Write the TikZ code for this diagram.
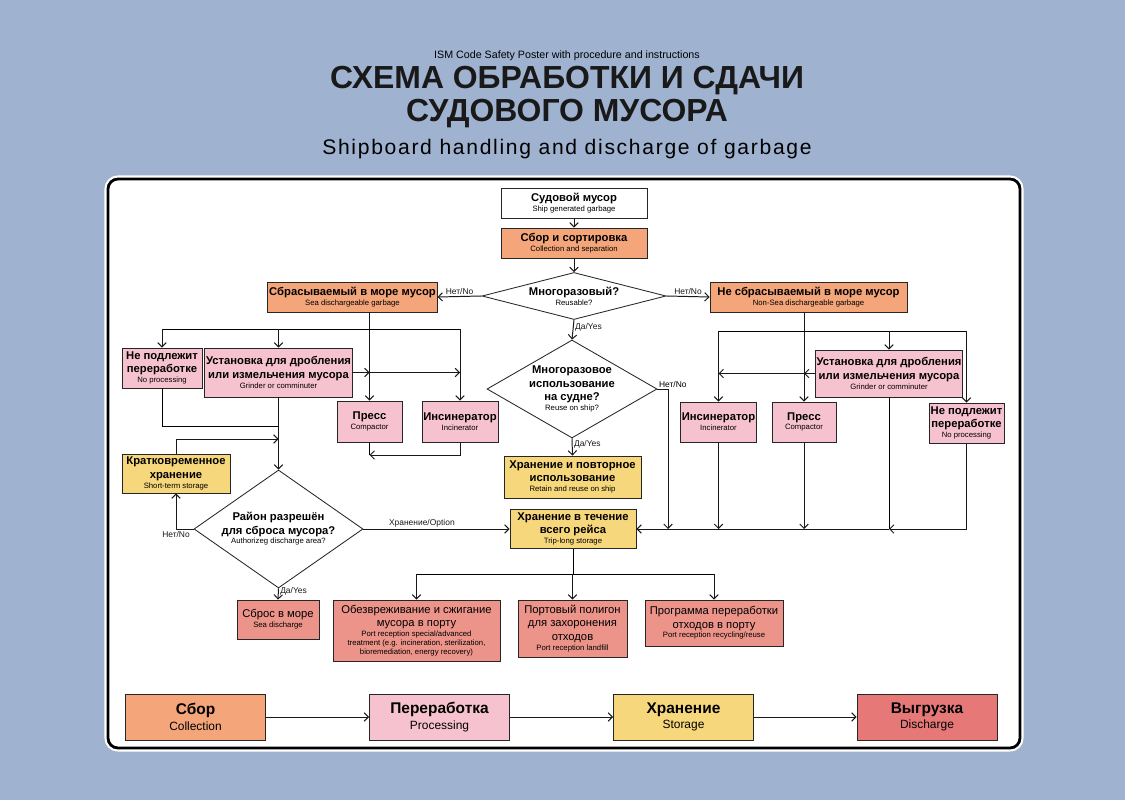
\documentclass[tikz,border=0pt]{standalone}
\usepackage{fontspec}
\setmainfont{Liberation Sans}
\usetikzlibrary{shapes.geometric,arrows.meta}
\newdimen\pxu \pxu=0.025cm
\definecolor{bgblue}{RGB}{159,178,208}
\definecolor{collorange}{RGB}{244,166,122}
\definecolor{procpink}{RGB}{247,194,208}
\definecolor{storeyellow}{RGB}{247,215,124}
\definecolor{dischred}{RGB}{236,148,138}
\definecolor{legendred}{RGB}{231,120,120}
\newcommand{\engl}[1]{{\fontsize{5.5}{6.5}\selectfont\mdseries #1}}
\newcommand{\englb}[1]{{\fontsize{8.5}{10}\selectfont\mdseries #1}}

\tikzset{
  box/.style={draw=black!85, line width=0.6pt, align=center, inner sep=1pt,
    font=\fontsize{8}{9.5}\selectfont\bfseries},
  wd/.style={minimum width=#1\pxu},
  ht/.style={minimum height=#1\pxu},
  collect/.style={box, fill=collorange},
  proc/.style={box, fill=procpink},
  store/.style={box, fill=storeyellow},
  disch/.style={box, fill=dischred, font=\fontsize{8}{9.5}\selectfont},
  decide/.style={diamond, draw=black!85, line width=0.6pt, fill=white, align=center,
    inner sep=0pt, font=\fontsize{8}{9.5}\selectfont\bfseries},
  lbl/.style={font=\fontsize{6}{7}\selectfont, inner sep=1pt},
  legendbox/.style={draw=black!85, line width=0.6pt, align=center, minimum width=140\pxu,
    minimum height=46\pxu, font=\fontsize{11}{13}\selectfont\bfseries},
  flow/.style={->, line width=0.7pt, black!90},
}

\begin{document}
\begin{tikzpicture}[x=0.025cm, y=-0.025cm, >={Straight Barb[length=3pt,width=6pt]}]
  %%%%% BACKGROUND %%%%%
  \fill[bgblue] (0,0) rectangle (1125,800);
  \useasboundingbox (0,0) rectangle (1125,800);
  \draw[white, line width=5pt, rounded corners=10\pxu] (108,179) rectangle (1020,748);
  \draw[black, fill=white, line width=2pt, rounded corners=10\pxu] (108,179) rectangle (1020,748);

  %%%%% TITLE %%%%%
  \node[font=\fontsize{7.6}{8}\selectfont] (ism) at (567,56) {ISM Code Safety Poster with procedure and instructions};
  \node[font=\fontsize{22.7}{23}\selectfont\bfseries, align=center, text=black!90] (ttl) at (567,97)
    {СХЕМА ОБРАБОТКИ И СДАЧИ\\СУДОВОГО МУСОРА};
  \node[font=\fontsize{15}{17}\selectfont\addfontfeature{LetterSpace=8}] (sub) at (567,149) {Shipboard handling and discharge of garbage};

  %%%%% TOP %%%%%
  \node[box, fill=white, wd=146, ht=30] (ship) at (574,203) {Судовой мусор\\[-2.5pt]\engl{Ship generated garbage}};
  \node[collect, wd=146, ht=30] (coll) at (574,243) {Сбор и сортировка\\[-2.5pt]\engl{Collection and separation}};
  \node[decide, minimum width=184\pxu, minimum height=47\pxu, shape aspect=3.9] (reuse) at (574,296)
    {Многоразовый?\\[-2.5pt]\engl{Reusable?}};
  \node[collect, wd=169, ht=30] (sea) at (352.5,297) {Сбрасываемый в море мусор\\[-2.5pt]\engl{Sea dischargeable garbage}};
  \node[collect, wd=197, ht=30] (nonsea) at (808.5,297) {Не сбрасываемый в море мусор\\[-2.5pt]\engl{Non-Sea dischargeable garbage}};
  \node[decide, minimum width=170\pxu, minimum height=98\pxu, shape aspect=1.73] (shipuse) at (572,389)
    {Многоразовое\\использование\\на судне?\\[-2.5pt]\engl{Reuse on ship?}};
  \node[store, wd=137, ht=42] (retain) at (572.5,477) {Хранение и повторное\\использование\\[-2.5pt]\engl{Retain and reuse on ship}};
  \node[store, wd=126, ht=39] (trip) at (573,529) {Хранение в течение\\всего рейса\\[-2.5pt]\engl{Trip-long storage}};

  %%%%% LEFT %%%%%
  \node[proc, wd=80, ht=40] (noprocL) at (162,368) {Не подлежит\\переработке\\[-2.5pt]\engl{No processing}};
  \node[proc, wd=147, ht=49] (grindL) at (278.5,372.5) {Установка для дробления\\или измельчения мусора\\[-2.5pt]\engl{Grinder or comminuter}};
  \node[proc, wd=65, ht=41] (compL) at (369.5,421.5) {Пресс\\[-2.5pt]\engl{Compactor}};
  \node[proc, wd=76, ht=41] (incL) at (460,421.5) {Инсинератор\\[-2.5pt]\engl{Incinerator}};
  \node[store, wd=108, ht=39] (shortL) at (176,473.5) {Кратковременное\\хранение\\[-2.5pt]\engl{Short-term storage}};
  \node[decide, minimum width=169\pxu, minimum height=118\pxu, shape aspect=1.43] (area) at (278.5,529)
    {Район разрешён\\для сброса мусора?\\[-2.5pt]\engl{Authorizeg discharge area?}};
  \node[disch, wd=82, ht=39] (seadis) at (278,619.5) {Сброс в море\\[-2.5pt]\engl{Sea discharge}};

  %%%%% RIGHT %%%%%
  \node[proc, wd=75, ht=40] (incR) at (718.5,422) {Инсинератор\\[-2.5pt]\engl{Incinerator}};
  \node[proc, wd=64, ht=40] (compR) at (804,422) {Пресс\\[-2.5pt]\engl{Compactor}};
  \node[proc, wd=146, ht=47] (grindR) at (889,373.5) {Установка для дробления\\или измельчения мусора\\[-2.5pt]\engl{Grinder or comminuter}};
  \node[proc, wd=75, ht=40] (noprocR) at (966.5,423) {Не подлежит\\переработке\\[-2.5pt]\engl{No processing}};

  %%%%% PORT %%%%%
  \node[disch, wd=167, ht=61] (portA) at (416.5,630.5) {Обезвреживание и сжигание\\мусора в порту\\[-2.5pt]\engl{Port reception special/advanced}\\[-3pt]\engl{treatment (e.g. incineration, sterilization,}\\[-3pt]\engl{bioremediation, energy recovery)}};
  \node[disch, wd=109, ht=57] (portB) at (572.5,628.5) {Портовый полигон\\для захоронения\\отходов\\[-2.5pt]\engl{Port reception landfill}};
  \node[disch, wd=138, ht=46] (portC) at (714,623) {Программа переработки\\отходов в порту\\[-2.5pt]\engl{Port reception recycling/reuse}};

  %%%%% LEGEND %%%%%
  \node[legendbox, fill=collorange] (lgA) at (195.5,717) {Сбор\\[-2pt]\englb{Collection}};
  \node[legendbox, fill=procpink] (lgB) at (439.5,717) {Переработка\\[-2pt]\englb{Processing}};
  \node[legendbox, fill=storeyellow] (lgC) at (683.5,717) {Хранение\\[-2pt]\englb{Storage}};
  \node[legendbox, fill=legendred] (lgD) at (927,717) {Выгрузка\\[-2pt]\englb{Discharge}};

  %%%%% CONNECTORS %%%%%
  \coordinate (brL) at (0,329);
  \coordinate (brR) at (0,331);
  \coordinate (jL) at (278.5,426);
  \coordinate (stL) at (0,439);
  \coordinate (rowL) at (0,455);
  \coordinate (tapA) at (668,529);
  \coordinate (jR) at (889,529);
  \coordinate (rowR) at (0,529);
  \coordinate (rowB) at (0,574);

  \draw[flow] (ship) -- (coll);
  \draw[flow] (coll) -- (reuse);
  \draw[flow] (reuse.west) -- node[lbl, above] (no1) {Нет/No} (sea.east);
  \draw[flow] (reuse.east) -- node[lbl, above] (no2) {Нет/No} (nonsea.west);
  \draw[flow] (reuse.south) -- node[lbl, right, pos=0.35] (yes1) {Да/Yes} (shipuse.north);
  \draw[flow] (shipuse.south) -- node[lbl, right, pos=0.35] (yes2) {Да/Yes} (retain.north);
  \draw[flow] (shipuse.east) -| (tapA);
  \node[lbl, anchor=south west] (no3) at (shipuse.east) {Нет/No};

  % left side
  \draw[flow] (sea.south -| compL) -- (compL.north);
  \draw (noprocL |- brL) -- (incL |- brL);
  \draw[flow] (noprocL |- brL) -- (noprocL.north);
  \draw[flow] (grindL |- brL) -- (grindL.north);
  \draw[flow] (incL |- brL) -- (incL.north);
  \draw[flow] (grindL.east) -- (grindL.east -| compL);
  \draw[flow] (grindL.east -| compL) -- (grindL.east -| incL);
  \draw[flow] (grindL) -- (area);
  \draw (noprocL.south) |- (jL);
  \draw[flow] (shortL.north) |- (grindL |- stL);
  \draw (compL.south) -- (compL |- rowL);
  \draw[flow] (incL.south) |- (compL |- rowL);
  \draw[flow] (area.west) -| node[lbl, below, pos=0.5] (no4) {Нет/No} (shortL.south);
  \draw[flow] (area.east) -- node[lbl, above, pos=0.4] (opt) {Хранение/Option} (trip.west);
  \draw[flow] (area.south) -- node[lbl, right, pos=0.3] (yes3) {Да/Yes} (seadis.north);

  % right side
  \draw[flow] (nonsea.south -| compR) -- (compR.north);
  \draw (incR |- brR) -- (noprocR |- brR);
  \draw[flow] (incR |- brR) -- (incR.north);
  \draw[flow] (grindR |- brR) -- (grindR.north);
  \draw[flow] (noprocR |- brR) -- (noprocR.north);
  \draw[flow] (grindR.west) -- (grindR.west -| compR);
  \draw[flow] (grindR.west -| compR) -- (grindR.west -| incR);
  \draw[flow] (incR) -- (incR |- rowR);
  \draw[flow] (compR) -- (compR |- rowR);
  \draw (grindR) -- (jR);
  \draw[flow] (noprocR.south) |- (jR);
  \draw[flow] (jR) -- (trip.east);

  % port
  \draw (trip.south) -- (trip |- rowB);
  \draw (portA |- rowB) -- (portC |- rowB);
  \draw[flow] (portA |- rowB) -- (portA.north);
  \draw[flow] (portB |- rowB) -- (portB.north);
  \draw[flow] (portC |- rowB) -- (portC.north);

  % legend
  \draw[flow] (lgA) -- (lgB);
  \draw[flow] (lgB) -- (lgC);
  \draw[flow] (lgC) -- (lgD);
\end{tikzpicture}
\end{document}
